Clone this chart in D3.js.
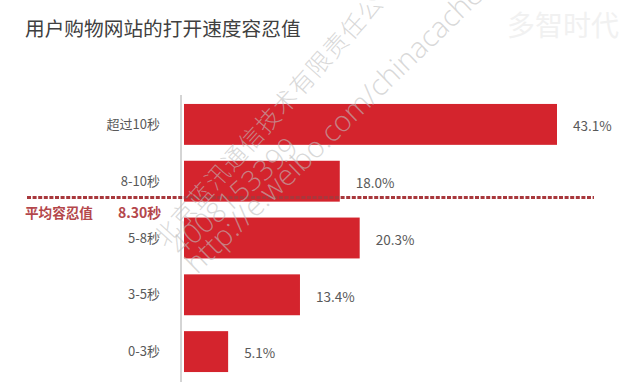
<!DOCTYPE html>
<html>
<head>
<meta charset="utf-8">
<script src="https://cdn.jsdelivr.net/npm/d3@7/dist/d3.min.js"></script>
<style>
html,body{margin:0;padding:0;background:#fff;}
svg{display:block;font-family:"Noto Sans CJK SC","Noto Sans",sans-serif;}
</style>
</head>
<body>
<svg id="chart" width="633" height="382"></svg>
<script>
const categories = ["超过10秒", "8-10秒", "5-8秒", "3-5秒", "0-3秒"];
const values = [43.1, 18.0, 20.3, 13.4, 5.1];
const valueLabels = ["43.1%", "18.0%", "20.3%", "13.4%", "5.1%"];
const title = "用户购物网站的打开速度容忍值";
const brand = "多智时代";
const avgLabel = "平均容忍值";
const avgValueLabel = "8.30秒";
const watermark = ["北京蓝汛通信技术有限责任公司", "4008153399", "http://e.weibo.com/chinacache"];

const svg = d3.select("#chart");
const axisX = 181;

const x = d3.scaleLinear().domain([0, 43.1]).range([axisX + 3, 557]);
const y = d3.scaleBand().domain(categories).range([96, 380]).paddingInner(0.28).paddingOuter(0.14);

// title
svg.append("text").attr("x", 25).attr("y", 36).attr("font-size", 19.7).attr("fill", "#404040").text(title);
svg.append("text").attr("x", 507).attr("y", 36).attr("font-size", 28).attr("fill", "#f1f1f1").text(brand);

// axis line
svg.append("line").attr("x1", axisX).attr("x2", axisX).attr("y1", 95).attr("y2", 382)
  .attr("stroke", "#aaaaaa").attr("stroke-width", 1);

// bars
svg.selectAll("rect.bar").data(categories).join("rect")
  .attr("class", "bar")
  .attr("x", x(0))
  .attr("y", d => y(d))
  .attr("width", (d, i) => x(values[i]) - x(0))
  .attr("height", y.bandwidth())
  .attr("fill", "#d4242d");

// category labels
svg.selectAll("text.cat").data(categories).join("text")
  .attr("class", "cat")
  .attr("x", 160)
  .attr("y", d => y(d) + y.bandwidth() / 2)
  .attr("dy", "0.35em")
  .attr("text-anchor", "end")
  .attr("font-size", 13)
  .attr("fill", "#595959")
  .text(d => d);

// value labels
svg.selectAll("text.val").data(categories).join("text")
  .attr("class", "val")
  .attr("x", (d, i) => x(values[i]) + 16)
  .attr("y", d => y(d) + y.bandwidth() / 2 + 2)
  .attr("dy", "0.35em")
  .attr("font-size", 13.5)
  .attr("fill", "#595959")
  .text((d, i) => valueLabels[i]);

// average dotted line
svg.append("line").attr("x1", 27).attr("x2", 594).attr("y1", 197.5).attr("y2", 197.5)
  .attr("stroke", "#a8383c").attr("stroke-width", 3).attr("stroke-dasharray", "4,1.6");

svg.append("text").attr("x", 25).attr("y", 218).attr("font-size", 13.6).attr("font-weight", "bold")
  .attr("fill", "#b4474b").text(avgLabel);
svg.append("text").attr("x", 118).attr("y", 218).attr("font-size", 14).attr("font-weight", "bold")
  .attr("fill", "#b4474b").text(avgValueLabel);

// watermark
const wm = [
  {t: watermark[0], x: 165, y: 248, s: 24, a: -48, f: "'Noto Sans CJK SC',sans-serif", ls: 1.3},
  {t: watermark[1], x: 181, y: 257, s: 28, a: -42, f: "'Open Sans',sans-serif", ls: 0},
  {t: watermark[2], x: 197, y: 275, s: 29, a: -44, f: "'Open Sans',sans-serif", ls: 0}
];
svg.selectAll("text.wm").data(wm).join("text")
  .attr("class", "wm")
  .attr("transform", d => `translate(${d.x},${d.y}) rotate(${d.a})`)
  .attr("font-size", d => d.s)
  .attr("font-family", d => d.f)
  .attr("letter-spacing", d => d.ls)
  .attr("font-weight", 300)
  .attr("fill", "rgba(190,190,190,0.6)")
  .text(d => d.t);
</script>
</body>
</html>
